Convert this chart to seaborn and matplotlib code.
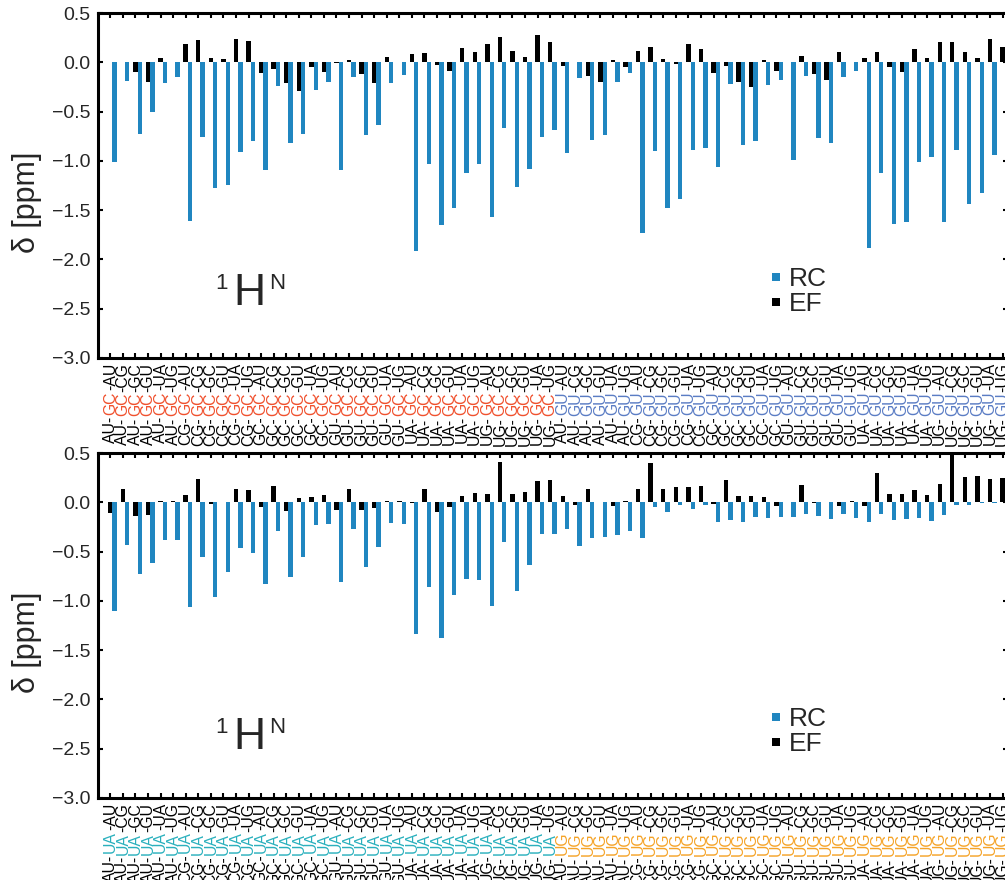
import numpy as np
import pandas as pd
import matplotlib
matplotlib.use("Agg")
import matplotlib.pyplot as plt
import seaborn as sns
from matplotlib.transforms import blended_transform_factory
from matplotlib.lines import Line2D
from matplotlib.ticker import FuncFormatter

# ---------------- data ----------------
flank = ["AU", "CG", "GC", "GU", "UA", "UG"]
top_mids = ["GC", "GU"]
bot_mids = ["UA", "UG"]
top_mid_colors = ["#f0502d", "#5a7cc4"]
bot_mid_colors = ["#2ab0bd", "#f5a327"]

series = ["RC", "EF"]

ef_top = [0.005, 0.005, -0.095, -0.20, 0.04, 0.005, 0.19, 0.23, 0.04, 0.03, 0.24, 0.22,
          -0.11, -0.07, -0.21, -0.29, -0.05, -0.10, -0.01, 0.02, -0.12, -0.21, 0.05, 0.005,
          0.08, 0.09, -0.03, -0.09, 0.15, 0.10, 0.19, 0.26, 0.11, 0.05, 0.28, 0.21,
          -0.04, 0.005, -0.14, -0.20, 0.02, -0.05, 0.11, 0.16, 0.03, -0.02, 0.19, 0.13,
          -0.11, -0.04, -0.20, -0.25, 0.02, -0.09, 0.005, 0.06, -0.12, -0.18, 0.10, 0.005,
          0.04, 0.10, -0.05, -0.10, 0.14, 0.04, 0.21, 0.21, 0.10, 0.04, 0.24, 0.16]
rc_top = [-1.01, -0.19, -0.73, -0.50, -0.21, -0.15, -1.61, -0.76, -1.28, -1.24, -0.91, -0.80,
          -1.09, -0.24, -0.82, -0.73, -0.28, -0.20, -1.09, -0.15, -0.74, -0.64, -0.21, -0.13,
          -1.91, -1.03, -1.65, -1.48, -1.12, -1.03, -1.57, -0.67, -1.27, -1.08, -0.76, -0.69,
          -0.92, -0.16, -0.79, -0.74, -0.20, -0.11, -1.73, -0.90, -1.48, -1.39, -0.89, -0.87,
          -1.06, -0.22, -0.84, -0.80, -0.23, -0.18, -0.99, -0.14, -0.77, -0.82, -0.15, -0.09,
          -1.88, -1.12, -1.64, -1.62, -1.01, -0.96, -1.62, -0.89, -1.44, -1.33, -0.94, -0.85]

ef_bot = [-0.11, 0.13, -0.14, -0.13, 0.01, 0.01, 0.07, 0.24, -0.02, 0.005, 0.14, 0.12,
          -0.05, 0.17, -0.09, 0.04, 0.05, 0.07, -0.08, 0.14, -0.08, -0.06, 0.01, 0.01,
          -0.01, 0.14, -0.10, -0.05, 0.06, 0.09, 0.08, 0.41, 0.08, 0.10, 0.22, 0.23,
          0.06, -0.03, 0.13, 0.005, -0.04, 0.01, 0.13, 0.40, 0.13, 0.16, 0.16, 0.17,
          -0.02, 0.23, 0.06, 0.06, 0.05, -0.04, 0.005, 0.18, -0.01, 0.005, -0.04, 0.01,
          -0.04, 0.30, 0.08, 0.08, 0.12, 0.07, 0.19, 0.48, 0.26, 0.27, 0.24, 0.25]
rc_bot = [-1.10, -0.43, -0.73, -0.62, -0.38, -0.38, -1.06, -0.55, -0.96, -0.71, -0.46, -0.51,
          -0.83, -0.29, -0.76, -0.56, -0.23, -0.22, -0.81, -0.27, -0.66, -0.45, -0.21, -0.22,
          -1.34, -0.86, -1.38, -0.94, -0.78, -0.79, -1.05, -0.40, -0.90, -0.64, -0.32, -0.32,
          -0.27, -0.44, -0.36, -0.35, -0.33, -0.29, -0.36, -0.05, -0.10, -0.03, -0.07, -0.03,
          -0.20, -0.18, -0.20, -0.15, -0.16, -0.15, -0.15, -0.12, -0.14, -0.17, -0.12, -0.16,
          -0.20, -0.12, -0.18, -0.17, -0.16, -0.19, -0.13, -0.03, -0.03, -0.01, -0.005, -0.005]

yticks = [0.5, 0.0, -0.5, -1.0, -1.5, -2.0, -2.5, -3.0]

BLUE = "#2086c0"
BLACK = "#000000"

# ---------------- style ----------------
sns.set_style("ticks")
plt.rcParams["font.family"] = ["Liberation Sans", "DejaVu Sans"]
plt.rcParams["axes.unicode_minus"] = True

fig = plt.figure(figsize=(10.05, 8.8), dpi=100)
ax_top = fig.add_axes([0.0978, 0.5932, 0.9052, 0.392])
ax_bot = fig.add_axes([0.0978, 0.0932, 0.9052, 0.392])


def fmt(v, pos):
    s = f"{v:.1f}"
    if s == "-0.0":
        s = "0.0"
    return s.replace("-", "\u2212")


def panel(ax, mids, mid_colors, ef, rc, h_y):
    labels = [f"{a}-{m}-{b}" for m in mids for a in flank for b in flank]
    n = len(labels)
    df = pd.DataFrame({
        "pair": labels * 2,
        "series": ["EF"] * n + ["RC"] * n,
        "shift": list(ef) + list(rc),
    })
    sns.barplot(data=df, x="pair", y="shift", hue="series", order=labels,
                hue_order=["EF", "RC"], palette={"EF": BLACK, "RC": BLUE},
                width=0.7, saturation=1, errorbar=None, legend=False,
                linewidth=0, ax=ax)
    ax.set_xlim(-1.13, n - 0.74)
    ax.set_ylim(-3.0, 0.5)
    ax.set_yticks(yticks)
    ax.yaxis.set_major_formatter(FuncFormatter(fmt))
    tickpos = np.arange(n) - 0.175
    ax.set_xticks(tickpos)
    ax.set_xticklabels([""] * n)
    ax.set_xlabel("")
    ax.tick_params(axis="both", direction="in", length=3.6, width=1.5,
                   top=True, right=True, labelsize=14, color="black")
    ax.tick_params(axis="y", pad=5.5)
    for sp in ax.spines.values():
        sp.set_linewidth(2.2)
        sp.set_color("black")
    ax.set_ylabel("\u03b4 [ppm]", fontsize=22)
    ax.yaxis.set_label_coords(-0.0617, 0.45)

    # coloured three-part tick labels
    trans = blended_transform_factory(ax.transData, ax.transAxes)
    fs = 11.3
    for i, lab in enumerate(labels):
        a, m, b = lab.split("-")
        col = mid_colors[mids.index(m)]
        t3 = ax.text(tickpos[i], -0.0145, "-" + b, rotation=90, ha="center",
                     va="top", transform=trans, fontsize=fs, color="black",
                     linespacing=0.9)
        t2 = ax.annotate(m, xy=(0.5, 0), xycoords=t3, xytext=(0, -0.8),
                         textcoords="offset points", rotation=90, ha="center",
                         va="top", fontsize=fs, color=col)
        ax.annotate(a + "-", xy=(0.5, 0), xycoords=t2, xytext=(0, -0.8),
                    textcoords="offset points", rotation=90, ha="center",
                    va="top", fontsize=fs, color="black")

    # 1H^N annotation
    h = ax.text(0.1487, h_y, "H", transform=ax.transAxes, fontsize=32,
                ha="left", va="top")
    ax.annotate("1", xy=(0, 1), xycoords=h, xytext=(-4, 0),
                textcoords="offset points", ha="right", va="top", fontsize=16)
    ax.annotate("N", xy=(1, 1), xycoords=h, xytext=(2.5, 0),
                textcoords="offset points", ha="left", va="top", fontsize=16)

    handles = [Line2D([], [], ls="", marker="s", markersize=5.5, color=BLUE,
                      markeredgewidth=0),
               Line2D([], [], ls="", marker="s", markersize=5.5, color=BLACK,
                      markeredgewidth=0)]
    ax.legend(handles, series, loc="upper left", bbox_to_anchor=(0.7387, 0.2645),
              frameon=False, fontsize=19, handlelength=0.4, handletextpad=0.3,
              labelspacing=0.05, borderpad=0, borderaxespad=0)


panel(ax_top, top_mids, top_mid_colors, ef_top, rc_top, 0.246)
panel(ax_bot, bot_mids, bot_mid_colors, ef_bot, rc_bot, 0.235)

fig.savefig("out.png", dpi=100)
